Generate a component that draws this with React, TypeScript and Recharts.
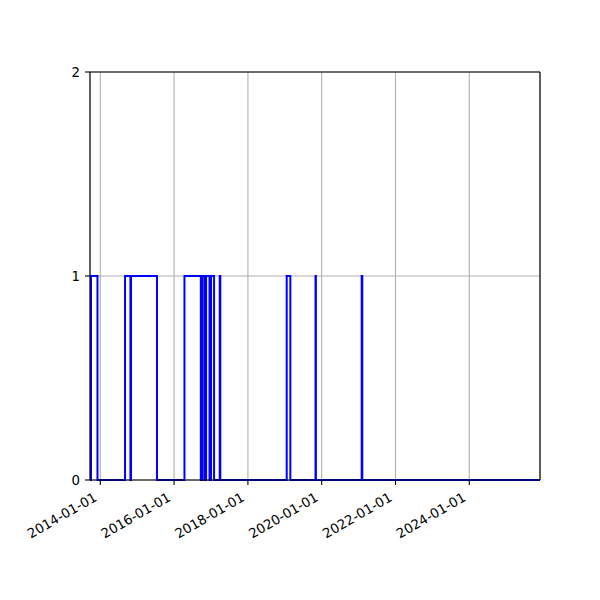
import { CartesianGrid, Line, LineChart, ReferenceLine, XAxis, YAxis } from 'recharts'

// state changes (stepAfter: the value holds until the next date)
const CHANGE_DATES = [
  '2013-09-21', '2013-10-01', '2013-12-04',
  '2014-09-03', '2014-10-26', '2014-11-01', '2015-07-16',
  '2016-04-13', '2016-09-22', '2016-10-07', '2016-10-29', '2016-11-13', '2016-12-17', '2017-01-01', '2017-01-31',
  '2017-03-28', '2017-04-03',
  '2019-01-20', '2019-02-25',
  '2019-11-01', '2019-11-05',
  '2021-01-31', '2021-02-06',
  '2025-12-01',
]
const STATE_VALUES = [0, 1, 0, 1, 0, 1, 0, 1, 0, 1, 0, 1, 0, 1, 0, 1, 0, 1, 0, 1, 0, 1, 0, 0]

const X_TICKS = ['2014-01-01', '2016-01-01', '2018-01-01', '2020-01-01', '2022-01-01', '2024-01-01']
const Y_TICKS = [0, 1, 2]

const data = CHANGE_DATES.map((d, i) => ({ t: Date.parse(d), v: STATE_VALUES[i] }))
const xDomain = [Date.parse('2013-09-21'), Date.parse('2025-12-01')]
const FONT = '"DejaVu Sans", sans-serif'

function DateTick({ x, y, payload }: any) {
  const label = new Date(payload.value).toISOString().slice(0, 10)
  const tx = x - 2.5
  const ty = y + 15
  return (
    <text x={tx} y={ty} transform={`rotate(-30, ${tx}, ${ty})`} textAnchor="end" fontSize={13.3} fontFamily={FONT} fill="#000">
      {label}
    </text>
  )
}

export default function App() {
  return (
    <div style={{ position: 'absolute', left: 0, top: 0, width: 600, height: 600, background: '#fff' }}>
      <LineChart width={600} height={600} data={data} margin={{ top: 72, right: 60, bottom: 0, left: 0 }}>
        <CartesianGrid stroke="#b0b0b0" strokeWidth={1.1} />
        <XAxis
          dataKey="t"
          type="number"
          domain={xDomain}
          ticks={X_TICKS.map((d) => Date.parse(d))}
          interval={0}
          height={120}
          tickSize={5}
          tickMargin={0}
          tick={<DateTick />}
          stroke="#000"
          strokeWidth={1.1}
          allowDataOverflow
        />
        <YAxis
          type="number"
          domain={[0, 2]}
          ticks={Y_TICKS}
          interval={0}
          width={90}
          tickSize={5}
          tickMargin={5}
          stroke="#000"
          strokeWidth={1.1}
          tick={{ fontSize: 13.3, fontFamily: FONT, fill: '#000' }}
        />
        <ReferenceLine y={2} stroke="#000" strokeWidth={1.1} />
        <ReferenceLine x={xDomain[1]} stroke="#000" strokeWidth={1.1} />
        <Line type="stepAfter" dataKey="v" stroke="#0000ff" strokeWidth={2} dot={false} isAnimationActive={false} />
      </LineChart>
    </div>
  )
}
